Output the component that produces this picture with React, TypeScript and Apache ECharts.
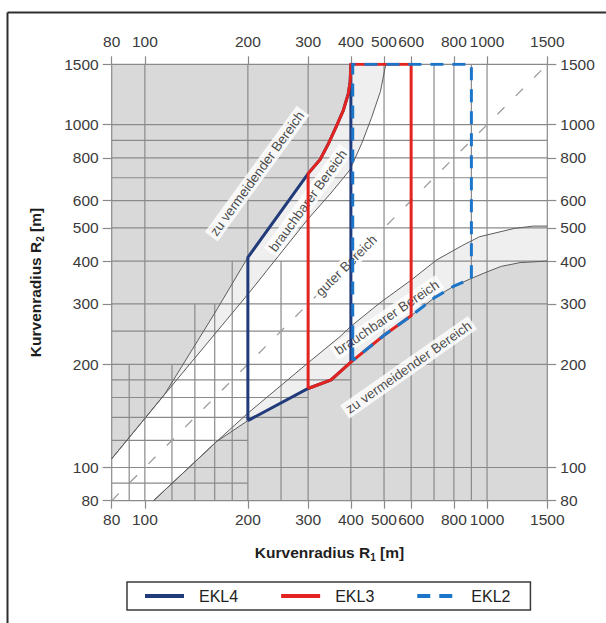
import React, { useEffect, useRef } from "react";
import * as echarts from "echarts";

// ---------- axis ----------
const AXIS_RANGE = [80, 1500];
const TICK_LABELS = [80, 100, 200, 300, 400, 500, 600, 800, 1000, 1500];

// grid lines over the whole plot (same values for R1 and R2)
const GRID_FULL = [80, 100, 200, 300, 400, 500, 600, 700, 800, 900, 1000, 1500];
// grid lines of the lower-left corner: [value, runs from 80 up to]
const GRID_PARTIAL = [
  [90, 200],
  [120, 200],
  [140, 300],
  [160, 300],
  [180, 400],
  [250, 400],
];

// ---------- region boundaries [R1, R2] ----------
const UPPER_OUTER = [
  [80, 106], [114, 163], [160, 282], [200, 410], [300, 720], [325, 790], [344, 880],
  [363, 990], [380, 1100], [393, 1230], [398, 1330], [400, 1500],
];
const UPPER_INNER = [
  [80, 106], [114, 163], [200, 320], [300, 531], [350, 632], [397, 737], [430, 880],
  [460, 1050], [488, 1250], [506, 1500],
];
const LOWER_OUTER = [
  [106, 80], [162, 119], [200, 137], [300, 170], [350, 180], [400, 203],
  [500, 243], [600, 277], [700, 312], [800, 338], [900, 356], [1000, 372], [1100, 386],
  [1250, 396], [1500, 400],
];
const LOWER_INNER = [
  [106, 80], [162, 119], [200, 144], [300, 202], [372, 241], [400, 258], [486, 302],
  [600, 352], [712, 403], [850, 445], [950, 471], [1200, 498], [1365, 506], [1500, 506],
];
const DIAGONAL = [[80, 80], [1500, 1500]];

// ---------- design classes ----------
const EKL4 = [
  [200, 137], [200, 410], [300, 720], [325, 790], [344, 880], [363, 990], [380, 1100],
  [393, 1230], [398, 1330], [400, 1500], [400, 203], [350, 180], [300, 170], [200, 137],
];
const EKL3 = [
  [300, 170], [300, 720], [325, 790], [344, 880], [363, 990], [380, 1100], [393, 1230],
  [398, 1330], [400, 1500], [600, 1500], [600, 277], [500, 243], [400, 203], [350, 180],
  [300, 170],
];
const EKL2 = [
  [405, 205], [405, 1500], [900, 1500], [900, 356], [800, 338], [700, 312], [600, 277],
  [500, 243], [405, 205],
];

// ---------- area labels ----------
const ANNOT_TEXT = [
  "zu vermeidender Bereich",
  "brauchbarer Bereich",
  "guter Bereich",
  "brauchbarer Bereich",
  "zu vermeidender Bereich",
];
const ANNOT_POS = [[213, 720], [300, 600], [388, 388], [510, 274], [590, 196]];
const ANNOT_ANGLE = [54, 54, 45, 34, 35];

const FONT = "'Liberation Sans', Arial, Helvetica, sans-serif";
const DARK = "#d9d9d9";
const LIGHT = "#efefef";
const GRID_COLOR = "#8a8a8a";

export default function App() {
  const ref = useRef<HTMLDivElement>(null);

  useEffect(() => {
    if (!ref.current) return;
    const chart = echarts.init(ref.current, null, { renderer: "svg" });
    const lg = (v: number) => Math.log10(v);
    const pt = (p: number[]) => [lg(p[0]), lg(p[1])];
    const [lo, hi] = AXIS_RANGE;

    const tickVals = TICK_LABELS.map(lg);
    const fmt = (v: number) => String(Math.round(Math.pow(10, v)));

    const nameRich = {
      m: { fontSize: 15.5, fontWeight: "bold", color: "#1e1e1e", fontFamily: FONT, lineHeight: 20, verticalAlign: "middle" },
      s: { fontSize: 10, fontWeight: "bold", color: "#1e1e1e", fontFamily: FONT, lineHeight: 12, verticalAlign: "bottom" },
    };

    const makeX = (pos: "top" | "bottom", margin: number, withName: boolean) => ({
      type: "value",
      position: pos,
      min: lg(lo),
      max: lg(hi),
      splitLine: { show: false },
      axisLine: { show: false },
      axisTick: { show: true, customValues: tickVals, length: 8, lineStyle: { color: GRID_COLOR, width: 1.2 } },
      axisLabel: { customValues: tickVals, formatter: fmt, margin, fontSize: 15.5, color: "#3a3a3a", fontFamily: FONT },
      ...(withName
        ? {
            name: "{m|Kurvenradius R}{s|1}{m| [m]}",
            nameLocation: "middle",
            nameGap: 42,
            nameMoveOverlap: false,
            nameTextStyle: { rich: nameRich },
          }
        : {}),
    });
    const makeY = (pos: "left" | "right", margin: number, withName: boolean) => ({
      type: "value",
      position: pos,
      min: lg(lo),
      max: lg(hi),
      splitLine: { show: false },
      axisLine: { show: false },
      axisTick: { show: true, customValues: tickVals, length: 9, lineStyle: { color: GRID_COLOR, width: 1.2 } },
      axisLabel: { customValues: tickVals, formatter: fmt, margin, fontSize: 15.5, color: "#3a3a3a", fontFamily: FONT },
      ...(withName
        ? {
            name: "{m|Kurvenradius R}{s|2}{m| [m]}",
            nameLocation: "middle",
            nameGap: 66,
            nameMoveOverlap: false,
            nameTextStyle: { rich: nameRich },
          }
        : {}),
    });

    const curve = (name: string, data: number[][], color: string, width: number, type: any = "solid") => ({
      name,
      type: "line",
      data: data.map(pt),
      symbol: "none",
      silent: true,
      z: 2,
      lineStyle: { color, width, type },
    });

    const ekl = (name: string, data: number[][], color: string, z: number, type: any = "solid") => ({
      name,
      type: "line",
      data: data.map(pt),
      symbol: "none",
      silent: true,
      z,
      color,
      lineStyle: { color, width: 3, type, join: "miter", cap: "butt" },
    });

    const option: any = {
      animation: false,
      backgroundColor: "#ffffff",
      grid: { left: 111.7, right: 58.7, top: 64.3, bottom: 122.3, outerBoundsMode: "none" },
      xAxis: [makeX("bottom", 11, true), makeX("top", 15, false)],
      yAxis: [makeY("left", 13, true), makeY("right", 13, false)],
      legend: {
        data: ["EKL4", "EKL3", "EKL2"],
        left: 127,
        top: 582,
        orient: "horizontal",
        itemWidth: 39,
        itemHeight: 14,
        itemGap: 41,
        padding: [6, 20, 6, 16],
        borderColor: "#3a3a3a",
        borderWidth: 1.5,
        borderRadius: 0,
        selectedMode: false,
        textStyle: { fontSize: 16, color: "#222", fontFamily: FONT, padding: [0, 0, 0, 10] },
        lineStyle: { width: 4 },
        itemStyle: { color: "rgba(0,0,0,0)", borderWidth: 0, opacity: 0 },
      },
      graphic: [
        { type: "line", shape: { x1: 7.5, y1: 12.5, x2: 606, y2: 12.5 }, style: { stroke: "#2e2e2e", lineWidth: 2 }, silent: true },
        { type: "line", shape: { x1: 7.5, y1: 12.5, x2: 7.5, y2: 623 }, style: { stroke: "#2e2e2e", lineWidth: 2 }, silent: true },
      ],
      series: [
        {
          name: "regions",
          type: "custom",
          silent: true,
          z: 1,
          data: [[lg(lo), lg(lo)]],
          renderItem: (_params: any, api: any) => {
            const c = (p: number[]) => api.coord(pt(p));
            const poly = (pts: number[][], fill: string) => ({
              type: "polygon",
              shape: { points: pts.map(c) },
              style: { fill },
            });
            const children: any[] = [
              poly([...UPPER_OUTER, [lo, hi]], DARK),
              poly([...LOWER_OUTER, [hi, lo]], DARK),
              poly([...UPPER_OUTER, ...UPPER_INNER.slice().reverse()], LIGHT),
              poly([...LOWER_OUTER, ...LOWER_INNER.slice().reverse()], LIGHT),
            ];
            const seg = (a: number[], b: number[]) => {
              const p1 = c(a);
              const p2 = c(b);
              return {
                type: "line",
                shape: { x1: p1[0], y1: p1[1], x2: p2[0], y2: p2[1] },
                style: { stroke: GRID_COLOR, lineWidth: 1.2 },
              };
            };
            GRID_FULL.forEach((v) => {
              children.push(seg([v, lo], [v, hi]));
              children.push(seg([lo, v], [hi, v]));
            });
            GRID_PARTIAL.forEach(([v, e]) => {
              children.push(seg([v, lo], [v, e]));
              children.push(seg([lo, v], [e, v]));
            });
            return { type: "group", children };
          },
        },
        curve("upperOuter", UPPER_OUTER, "#5c5c5c", 1),
        curve("upperInner", UPPER_INNER, "#5c5c5c", 1),
        curve("lowerOuter", LOWER_OUTER, "#5c5c5c", 1),
        curve("lowerInner", LOWER_INNER, "#5c5c5c", 1),
        curve("diagonal", DIAGONAL, "#9c9c9c", 1.3, [10, 16]),
        {
          name: "annotations",
          type: "scatter",
          symbolSize: 0,
          silent: true,
          z: 3,
          data: ANNOT_POS.map((p, i) => ({
            value: pt(p),
            name: ANNOT_TEXT[i],
            label: { rotate: ANNOT_ANGLE[i] },
          })),
          label: {
            show: true,
            position: "inside",
            formatter: "{b}",
            fontSize: 13.5,
            color: "#1a1a1a",
            fontFamily: FONT,
            backgroundColor: "#ffffff",
            padding: [1, 3, 1, 3],
          },
        },
        ekl("EKL4", EKL4, "#213a7a", 4),
        ekl("EKL3", EKL3, "#e2231f", 5),
        ekl("EKL2", EKL2, "#1b75c9", 6, [13, 9]),
      ],
    };

    chart.setOption(option);
    return () => chart.dispose();
  }, []);

  return (
    <div
      ref={ref}
      style={{ position: "fixed", left: 0, top: 0, width: 606, height: 623, background: "#fff" }}
    />
  );
}
